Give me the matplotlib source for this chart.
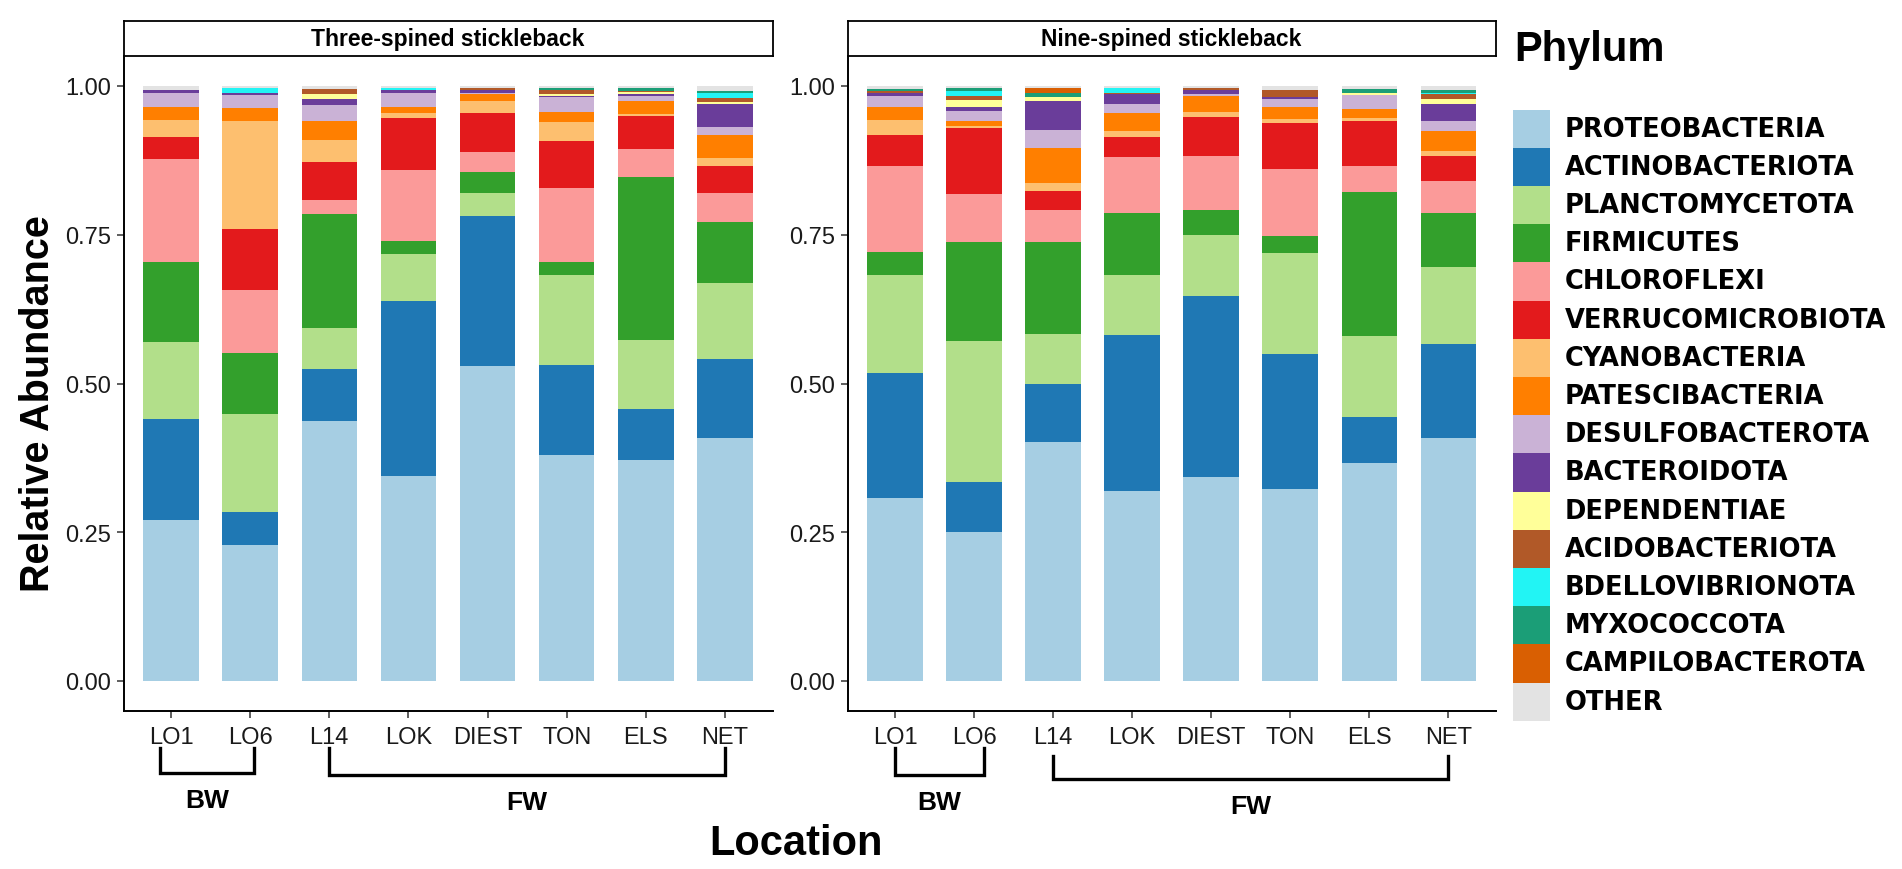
import matplotlib
matplotlib.use("Agg")
import matplotlib.pyplot as plt
import matplotlib.transforms as mtrans
from matplotlib.patches import Rectangle
from matplotlib import font_manager
import numpy as np

# locations on the x axis (same for both fish)
locations = ["LO1", "LO6", "L14", "LOK", "DIEST", "TON", "ELS", "NET"]

phyla = ["PROTEOBACTERIA", "ACTINOBACTERIOTA", "PLANCTOMYCETOTA", "FIRMICUTES",
         "CHLOROFLEXI", "VERRUCOMICROBIOTA", "CYANOBACTERIA", "PATESCIBACTERIA",
         "DESULFOBACTEROTA", "BACTEROIDOTA", "DEPENDENTIAE", "ACIDOBACTERIOTA",
         "BDELLOVIBRIONOTA", "MYXOCOCCOTA", "CAMPILOBACTEROTA", "OTHER"]

phylum_colors = ["#A6CEE3", "#1F78B4", "#B2DF8A", "#33A02C", "#FB9A99", "#E31A1C",
                 "#FDBF6F", "#FF7F00", "#CAB2D6", "#6A3D9A", "#FFFF99", "#B15928",
                 "#22F4F4", "#1B9E77", "#D95F02", "#E3E3E3"]

# relative abundance, rows = phyla (legend order), cols = locations
three_spined = [
    [0.270, 0.229, 0.437, 0.345, 0.529, 0.380, 0.371, 0.408],
    [0.170, 0.055, 0.087, 0.294, 0.252, 0.151, 0.086, 0.133],
    [0.130, 0.165, 0.070, 0.079, 0.040, 0.151, 0.116, 0.128],
    [0.135, 0.102, 0.191, 0.021, 0.035, 0.022, 0.274, 0.102],
    [0.172, 0.106, 0.024, 0.119, 0.033, 0.125, 0.047, 0.050],
    [0.037, 0.103, 0.064, 0.088, 0.065, 0.078, 0.056, 0.044],
    [0.029, 0.182, 0.036, 0.008, 0.020, 0.032, 0.003, 0.014],
    [0.022, 0.021, 0.033, 0.010, 0.012, 0.017, 0.022, 0.039],
    [0.024, 0.022, 0.026, 0.024, 0.003, 0.025, 0.008, 0.013],
    [0.004, 0.003, 0.010, 0.005, 0.005, 0.002, 0.003, 0.038],
    [0.000, 0.000, 0.008, 0.000, 0.000, 0.003, 0.004, 0.004],
    [0.000, 0.000, 0.009, 0.000, 0.002, 0.008, 0.002, 0.007],
    [0.000, 0.008, 0.000, 0.004, 0.000, 0.000, 0.000, 0.008],
    [0.001, 0.000, 0.000, 0.000, 0.000, 0.003, 0.005, 0.004],
    [0.000, 0.000, 0.000, 0.000, 0.000, 0.000, 0.000, 0.000],
    [0.006, 0.004, 0.005, 0.003, 0.004, 0.003, 0.003, 0.008],
]

nine_spined = [
    [0.308, 0.251, 0.402, 0.320, 0.343, 0.323, 0.366, 0.409],
    [0.210, 0.084, 0.098, 0.262, 0.304, 0.227, 0.077, 0.157],
    [0.164, 0.236, 0.084, 0.100, 0.103, 0.170, 0.136, 0.129],
    [0.039, 0.166, 0.153, 0.104, 0.041, 0.028, 0.243, 0.092],
    [0.144, 0.081, 0.055, 0.095, 0.091, 0.113, 0.043, 0.053],
    [0.052, 0.111, 0.032, 0.034, 0.066, 0.077, 0.076, 0.042],
    [0.026, 0.004, 0.013, 0.010, 0.008, 0.006, 0.005, 0.008],
    [0.022, 0.009, 0.059, 0.029, 0.027, 0.020, 0.015, 0.035],
    [0.018, 0.016, 0.030, 0.015, 0.003, 0.014, 0.024, 0.017],
    [0.006, 0.007, 0.049, 0.017, 0.008, 0.004, 0.000, 0.027],
    [0.000, 0.011, 0.007, 0.000, 0.000, 0.000, 0.004, 0.009],
    [0.003, 0.007, 0.000, 0.003, 0.003, 0.012, 0.000, 0.008],
    [0.000, 0.009, 0.000, 0.007, 0.000, 0.000, 0.000, 0.003],
    [0.003, 0.004, 0.007, 0.000, 0.000, 0.000, 0.006, 0.005],
    [0.000, 0.000, 0.007, 0.000, 0.000, 0.000, 0.000, 0.000],
    [0.005, 0.004, 0.004, 0.004, 0.003, 0.006, 0.005, 0.006],
]

panel_titles = ["Three-spined stickleback", "Nine-spined stickleback"]
yticks = [0.0, 0.25, 0.5, 0.75, 1.0]

# fonts
installed = {f.name for f in font_manager.fontManager.ttflist}
main_font = "Liberation Sans" if "Liberation Sans" in installed else "DejaVu Sans"
narrow_font = "Liberation Sans Narrow" if "Liberation Sans Narrow" in installed else main_font
strip_size = 19 if narrow_font != main_font else 16.5
plt.rcParams['font.family'] = [main_font, 'DejaVu Sans']

W, H = 1902, 870
fig = plt.figure(figsize=(W / 100, H / 100), dpi=100)

def fx(px):
    return px / W

def fy(py):
    return 1 - py / H

panel_left = [123.5, 847.6]
panel_w = [649, 648]
ax_top, ax_bot = 57.25, 711.75
strip_top = 22

# brackets: (start, end, label, top px, bar px, label px), x in location index units
brackets = [
    [(-0.14, 1.05, "BW", 749, 774, 801), (2.0, 7.0, "FW", 749, 776, 803)],
    [(0.0, 1.12, "BW", 749, 776, 803), (2.0, 7.0, "FW", 757, 780, 807)],
]

x = np.arange(len(locations))
for p, data in enumerate([three_spined, nine_spined]):
    ax = fig.add_axes([fx(panel_left[p]), fy(ax_bot), fx(panel_w[p]), (ax_bot - ax_top) / H])
    bottom = np.zeros(len(locations))
    for i, row in enumerate(data):
        vals = np.array(row)
        ax.bar(x, vals, width=0.7, bottom=bottom, color=phylum_colors[i],
               edgecolor='none', linewidth=0)
        bottom += vals
    ax.set_xlim(-0.6, len(locations) - 0.4)
    ax.set_ylim(-0.05, 1.05)
    ax.set_xticks(x)
    ax.set_xticklabels(locations)
    ax.set_yticks(yticks)
    ax.set_yticklabels(["%.2f" % t for t in yticks])
    for s in ['top', 'right']:
        ax.spines[s].set_visible(False)
    for s in ['left', 'bottom']:
        ax.spines[s].set_linewidth(1.4)
        ax.spines[s].set_color('black')
    ax.tick_params(length=5, width=1.1, color='#333333', labelsize=17,
                   labelcolor='#1a1a1a', pad=4)
    ax.tick_params(axis='x', pad=6)

    # facet strip
    sax = fig.add_axes([fx(panel_left[p]), fy(ax_top), fx(panel_w[p]), (ax_top - strip_top) / H])
    sax.set_xticks([])
    sax.set_yticks([])
    for s in sax.spines.values():
        s.set_linewidth(1.3)
    sax.text(0.5, 0.5, panel_titles[p], ha='center', va='center',
             fontsize=strip_size, fontweight='bold', family=narrow_font)

    # BW / FW brackets under the axis
    tr = mtrans.blended_transform_factory(ax.transData, fig.transFigure)
    for x0, x1, lab, ytop, ybar, ylab in brackets[p]:
        ax.plot([x0, x0, x1, x1], [fy(ytop), fy(ybar), fy(ybar), fy(ytop)], transform=tr,
                color='black', lw=2.4, clip_on=False, solid_joinstyle='miter')
        ax.text((x0 + x1) / 2, fy(ylab), lab, transform=tr, ha='center', va='center',
                fontsize=19, fontweight='bold')

fig.text(fx(38), fy(404), "Relative Abundance", rotation=90, ha='center', va='center',
         fontsize=28.5, fontweight='bold')
fig.text(fx(796), fy(844), "Location", ha='center', va='center',
         fontsize=30, fontweight='bold')

# legend
fig.text(fx(1514), fy(50), "Phylum", ha='left', va='center', fontsize=30, fontweight='bold')
key_top, key_h = 110.5, 38.2
for i, name in enumerate(phyla):
    y0 = key_top + i * key_h
    fig.patches.append(Rectangle((fx(1513), fy(y0 + key_h)), fx(37), key_h / H,
                                 transform=fig.transFigure, facecolor=phylum_colors[i],
                                 edgecolor='none'))
    fig.text(fx(1565), fy(y0 + key_h / 2), name, ha='left', va='center',
             fontsize=18.5, fontweight='bold', family='DejaVu Sans')

fig.savefig("out.png", dpi=100)
